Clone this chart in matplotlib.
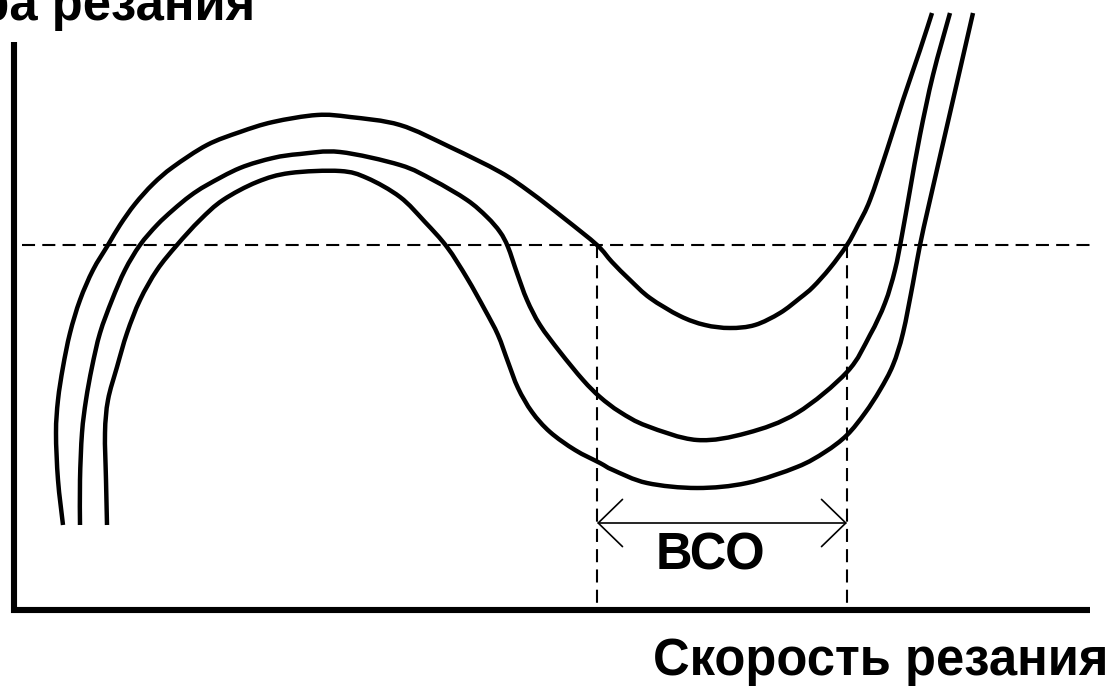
import matplotlib
matplotlib.use("Agg")
import matplotlib.pyplot as plt
from matplotlib.path import Path
from matplotlib.patches import PathPatch
import numpy as np

# curves, pixel coordinates (y grows downwards)
c1_x = [63, 58, 56, 58, 63, 70, 80, 93, 108, 120, 135, 153, 173, 207, 240, 273, 317, 350, 400, 450,
        500, 530, 565, 597, 612, 630, 650, 680, 705, 730, 755, 780, 800, 813, 830, 847, 858,
        870, 887, 903, 920, 932]
c1_y = [525, 480, 433, 400, 367, 333, 300, 270, 245, 225, 204, 184, 167, 145, 132, 122, 115, 117, 125, 147,
        172, 192, 219, 245, 262, 280, 298, 316, 325, 328, 325, 313, 298, 287, 268, 245, 225,
        200, 150, 100, 50, 13]

c2_x = [80, 80, 82, 86, 92, 100, 112, 125, 140, 157, 173, 190, 207, 240, 273, 300, 340, 400, 433, 467,
        487, 500, 508, 517, 527, 540, 560, 583, 600, 620, 647, 697, 747, 797, 847, 870, 885, 895,
        902, 910, 920, 933, 950]
c2_y = [525, 480, 433, 400, 367, 333, 300, 270, 245, 225, 210, 196, 185, 168, 158, 154, 152, 165, 180, 200,
        217, 232, 247, 273, 300, 325, 352, 380, 397, 412, 426, 440, 433, 413, 372, 335, 303, 270,
        235, 190, 135, 75, 13]

c3_x = [107, 106, 105, 108, 117, 127, 140, 157, 177, 200, 223, 257, 290, 340, 367, 400, 425, 447, 467,
        485, 498, 508, 518, 532, 550, 575, 600, 613, 647, 697, 747, 797, 825, 847, 865, 880, 893, 903,
        913, 920, 930, 953, 973]
c3_y = [525, 480, 433, 400, 367, 333, 300, 270, 245, 220, 200, 182, 173, 171, 178, 197, 222, 247, 278,
        310, 335, 362, 388, 412, 432, 450, 463, 470, 483, 488, 483, 467, 452, 435, 413, 390, 365, 333,
        283, 245, 200, 100, 13]

level_y = 245
zone_left = 597
zone_right = 847
zone_label = "ВСО"
x_label = "Скорость резания"
y_label = "Температура резания"

plt.rcParams["font.family"] = ["Liberation Sans", "DejaVu Sans"]
plt.rcParams["lines.scale_dashes"] = False


def smooth_path(xs, ys):
    # bezier path through the traced points (catmull-rom handles)
    p = np.column_stack([xs, ys]).astype(float)
    p = np.vstack([p[0], p, p[-1]])
    verts = [p[1]]
    codes = [Path.MOVETO]
    for i in range(1, len(p) - 2):
        c1 = p[i] + (p[i + 1] - p[i - 1]) / 6
        c2 = p[i + 1] - (p[i + 2] - p[i]) / 6
        verts += [c1, c2, p[i + 1]]
        codes += [Path.CURVE4] * 3
    return Path(verts, codes)


fig = plt.figure(figsize=(11.13, 6.86), dpi=100)
ax = fig.add_axes([0, 0, 1, 1])
ax.set_xlim(0, 1113)
ax.set_ylim(686, 0)
ax.axis("off")

# axes of the sketch
ax.plot([14, 14, 1090], [42, 610, 610], color="black", lw=4.4,
        solid_joinstyle="miter", solid_capstyle="butt")

# dashed guides
dash = (0, (9.4, 5.2))
ax.plot([22, 1090], [level_y, level_y], color="black", lw=1.5, linestyle=dash)
for xv in [zone_left, zone_right]:
    ax.plot([xv, xv], [level_y, 610], color="black", lw=1.5, linestyle=dash)

# the three curves
for xs, ys in [(c1_x, c1_y), (c2_x, c2_y), (c3_x, c3_y)]:
    ax.add_patch(PathPatch(smooth_path(xs, ys), facecolor="none", edgecolor="black",
                           lw=3.2, capstyle="butt", joinstyle="round"))

# zone arrow
ax.annotate("", xy=(zone_left, 523), xytext=(zone_right, 523),
            arrowprops=dict(arrowstyle="<->,head_length=17.5,head_width=17", mutation_scale=1,
                            color="black", lw=1.2, shrinkA=0, shrinkB=0))
ax.text(710, 570, zone_label, ha="center", va="baseline",
        fontsize=36.5, fontweight="bold")

ax.text(1108, 675, x_label, ha="right", va="baseline", fontsize=36.5, fontweight="bold")
ax.text(255, 20, y_label, ha="right", va="baseline", fontsize=36.5, fontweight="bold")

fig.savefig("out.png", dpi=100)
